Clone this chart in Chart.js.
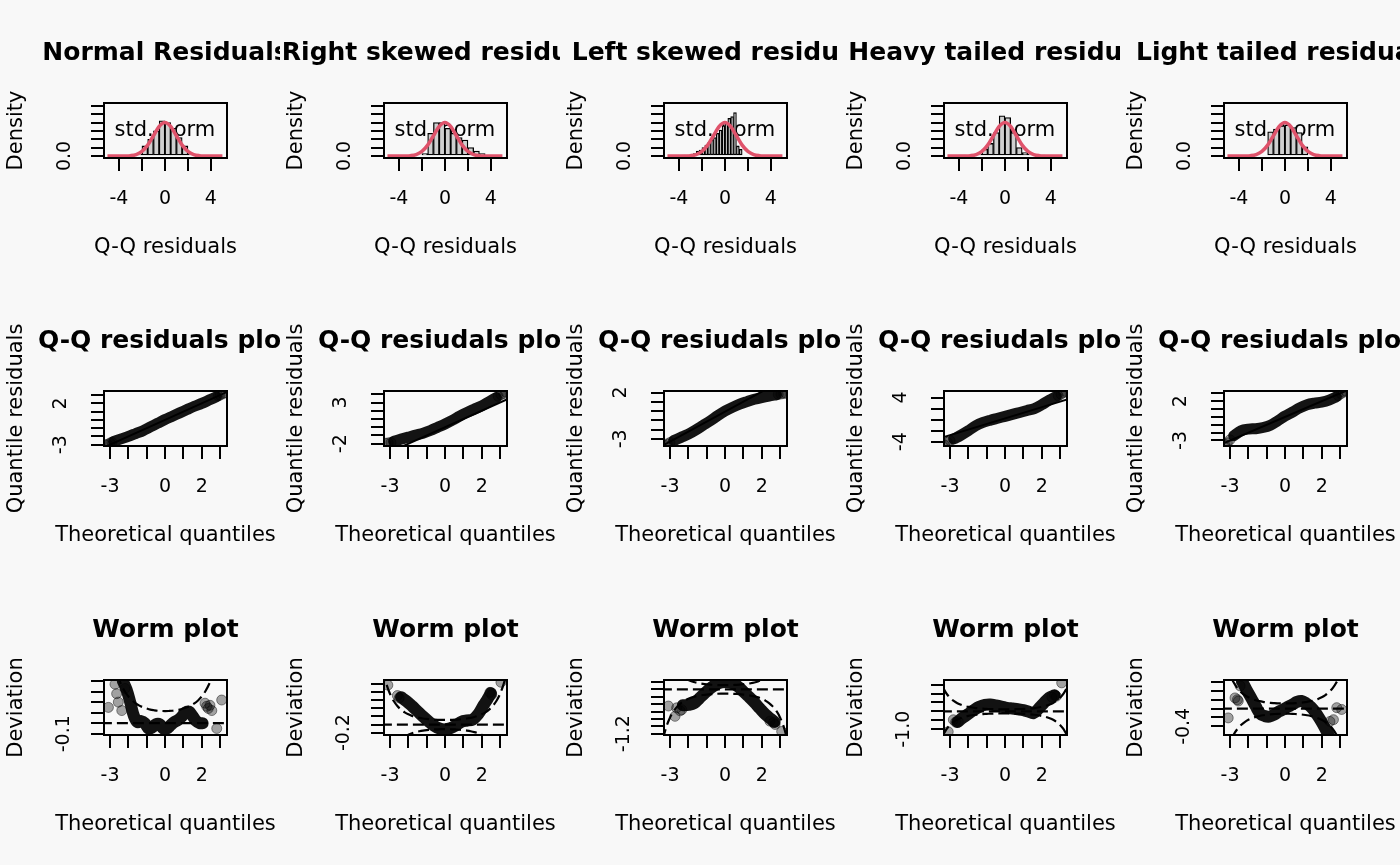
<!DOCTYPE html>
<html>
<head>
<meta charset="utf-8">
<script src="https://cdn.jsdelivr.net/npm/chart.js@4.4.1/dist/chart.umd.min.js"></script>
<style>
  html, body { margin: 0; padding: 0; background: #f8f8f8; }
  #wrap { position: relative; width: 1400px; height: 865px; overflow: hidden; }
  #wrap canvas { position: absolute; }
</style>
</head>
<body>
<div id="wrap"></div>
<script>
// ---- top row: histograms of the residuals (density) ----
const histTitles = ['Normal Residuals', 'Right skewed residuals', 'Left skewed residuals', 'Heavy tailed residuals', 'Light tailed residuals'];
const normBins  = [-2.75, -2.25, -1.75, -1.25, -0.75, -0.25, 0.25, 0.75, 1.25, 1.75, 2.25, 2.75];
const normDens  = [0.01, 0.02, 0.12, 0.20, 0.30, 0.42, 0.40, 0.33, 0.22, 0.12, 0.03, 0.01];
const rskewBins = [-1.75, -1.25, -0.75, -0.25, 0.25, 0.75, 1.25, 1.75, 2.25, 2.75, 3.25];
const rskewDens = [0.03, 0.27, 0.40, 0.40, 0.33, 0.27, 0.22, 0.19, 0.10, 0.06, 0.03];
const lskewBins = [-3.625, -3.375, -3.125, -2.875, -2.625, -2.375, -2.125, -1.875, -1.625, -1.375, -1.125,
                   -0.875, -0.625, -0.375, -0.125, 0.125, 0.375, 0.625, 0.875, 1.125, 1.375];
const lskewDens = [0.01, 0.01, 0.01, 0.02, 0.03, 0.06, 0.07, 0.10, 0.13, 0.16, 0.19,
                   0.22, 0.27, 0.31, 0.36, 0.40, 0.45, 0.47, 0.52, 0.12, 0.08];
const heavyBins = [-3.75, -3.25, -2.75, -2.25, -1.75, -1.25, -0.75, -0.25, 0.25, 0.75, 1.25, 1.75, 2.25, 2.75, 3.25];
const heavyDens = [0.005, 0.01, 0.01, 0.02, 0.08, 0.15, 0.28, 0.48, 0.46, 0.28, 0.10, 0.04, 0.02, 0.01, 0.005];
const lightBins = [-1.25, -0.75, -0.25, 0.25, 0.75, 1.25, 1.75];
const lightDens = [0.29, 0.32, 0.36, 0.37, 0.34, 0.28, 0.11];
// red reference curve (standard normal density)
const curveX = [-5, -4.5, -4, -3.5, -3, -2.5, -2, -1.5, -1, -0.5, 0, 0.5, 1, 1.5, 2, 2.5, 3, 3.5, 4, 4.5, 5];
const curveY = [0, 0, 0.0001, 0.0009, 0.0044, 0.0175, 0.054, 0.1295, 0.242, 0.3521, 0.3989,
                0.3521, 0.242, 0.1295, 0.054, 0.0175, 0.0044, 0.0009, 0.0001, 0, 0];
const histXTicks = [-4, -2, 0, 2, 4];
const histXLabels = ['-4', '', '0', '', '4'];
const histYTicks = [0, 0.1, 0.2, 0.3, 0.4, 0.5, 0.6];
const histYLabels = ['0.0', '', '', '', '', '', ''];

// ---- middle row: Q-Q plots ----
const qqTitles = ['Q-Q residuals plot', 'Q-Q resiudals plot', 'Q-Q resiudals plot', 'Q-Q resiudals plot', 'Q-Q resiudals plot'];
const qqX      = [-2.8, -2.4, -2.0, -1.6, -1.2, -0.8, -0.4, 0, 0.4, 0.8, 1.2, 1.6, 2.0, 2.4, 2.8];
const qqNormal = [-2.6, -2.3, -2.0, -1.65, -1.3, -0.85, -0.4, 0.05, 0.45, 0.85, 1.25, 1.65, 2.0, 2.4, 2.8];
const qqRight  = [-1.7, -1.45, -1.2, -0.95, -0.72, -0.4, 0.0, 0.4, 0.85, 1.35, 1.8, 2.2, 2.6, 3.1, 3.6];
const qqLeft   = [-3.2, -2.85, -2.5, -2.05, -1.55, -1.05, -0.5, 0.0, 0.4, 0.75, 1.02, 1.27, 1.46, 1.62, 1.76];
const qqHeavy  = [-3.5, -2.8, -2.0, -1.1, -0.5, -0.1, 0.25, 0.6, 0.95, 1.3, 1.65, 2.0, 2.7, 3.5, 4.2];
const qqLight  = [-2.4, -1.75, -1.55, -1.5, -1.35, -1.05, -0.5, 0.1, 0.6, 1.15, 1.55, 1.75, 1.88, 2.13, 2.55];
const qqNormalTails = [[-3.25, -3.05], [-3.15, -2.95], [-3.0, -2.8], [-2.9, -2.7], [2.9, 2.9], [3.0, 3.0], [3.15, 3.15], [3.25, 3.3]];
const qqRightTails  = [[-3.25, -1.95], [-3.1, -1.9], [-2.95, -1.85], [2.9, 3.75], [3.05, 3.95], [3.2, 4.1], [3.3, 4.3]];
const qqLeftTails   = [[-3.3, -3.7], [-3.15, -3.55], [-3.0, -3.4], [2.9, 1.8], [3.05, 1.85], [3.2, 1.9], [3.3, 1.95]];
const qqHeavyTails  = [[-3.3, -4.6], [-3.15, -4.1], [-3.0, -3.8], [2.9, 4.3], [3.05, 4.6], [3.2, 4.9], [3.3, 5.1]];
const qqLightTails  = [[-3.3, -3.5], [-3.15, -3.3], [-3.0, -2.9], [2.9, 2.7], [3.05, 2.95], [3.2, 3.15], [3.3, 3.3]];
const qqRefLines = [
  [[-3.6, -3.6], [3.6, 3.6]],
  [[-3.6, -3.6], [3.6, 3.6]],
  [[-3.6, -3.95], [3.6, 3.82]],
  [[-3.6, -3.4], [3.6, 3.86]],
  [[-3.6, -3.6], [3.6, 3.6]]
];
const qqYRanges = [[-3.16, 3.5], [-2.28, 4.4], [-3.78, 2.17], [-4.77, 5.18], [-3.7, 3.29]];
const qqXTicks = [-3, -2, -1, 0, 1, 2, 3];
const qqXLabels = ['-3', '', '', '0', '', '2', ''];
const qqYTicks = [[-3, -2, -1, 0, 1, 2, 3], [-2, -1, 0, 1, 2, 3, 4], [-3, -2, -1, 0, 1, 2], [-4, -2, 0, 2, 4], [-3, -2, -1, 0, 1, 2, 3]];
const qqYLabels = [['-3', '', '', '', '', '2', ''], ['-2', '', '', '', '', '3', ''], ['-3', '', '', '', '', '2'], ['-4', '', '', '', '4'], ['-3', '', '', '', '', '2', '']];

// ---- bottom row: worm plots ----
const wormNormalX = [-2.3, -2.1, -1.9, -1.7, -1.5, -1.3, -1.1, -0.9, -0.7, -0.5, -0.3, -0.1, 0.1, 0.3, 0.5, 0.7, 0.9, 1.1, 1.3, 1.5, 1.7, 1.9, 2.05];
const wormNormalY = [0.40, 0.32, 0.20, 0.07, 0.01, 0.02, 0.0, -0.05, -0.04, -0.01, -0.01, -0.05, -0.05, -0.02, 0.01, 0.03, 0.06, 0.10, 0.11, 0.07, 0.02, 0.0, 0.0];
const wormRightX  = [-2.4, -2.1, -1.8, -1.5, -1.2, -0.9, -0.6, -0.3, 0, 0.3, 0.6, 0.9, 1.2, 1.5, 1.8, 2.1, 2.3, 2.5];
const wormRightY  = [0.68, 0.58, 0.46, 0.33, 0.20, 0.08, -0.03, -0.10, -0.12, -0.09, -0.02, 0.07, 0.10, 0.12, 0.25, 0.48, 0.62, 0.78];
const wormLeftX   = [-2.3, -2.0, -1.7, -1.4, -1.1, -0.8, -0.5, -0.2, 0.1, 0.4, 0.7, 1.0, 1.3, 1.6, 1.9, 2.2, 2.5, 2.7];
const wormLeftY   = [-0.43, -0.42, -0.38, -0.24, -0.10, 0.03, 0.13, 0.19, 0.20, 0.17, 0.08, -0.06, -0.20, -0.35, -0.52, -0.68, -0.80, -0.88];
const wormHeavyX  = [-2.6, -2.3, -2.0, -1.7, -1.4, -1.1, -0.8, -0.5, -0.2, 0.1, 0.4, 0.7, 1.0, 1.3, 1.55, 1.8, 2.1, 2.4, 2.7];
const wormHeavyY  = [-0.6, -0.35, -0.14, 0.08, 0.26, 0.36, 0.38, 0.33, 0.27, 0.20, 0.16, 0.12, 0.07, -0.02, -0.10, 0.12, 0.45, 0.76, 0.90];
const wormLightX  = [-2.35, -2.1, -1.85, -1.6, -1.35, -1.1, -0.85, -0.6, -0.35, -0.1, 0.15, 0.4, 0.65, 0.9, 1.15, 1.4, 1.65, 1.9, 2.15, 2.4];
const wormLightY  = [0.62, 0.42, 0.24, 0.05, -0.12, -0.17, -0.18, -0.14, -0.07, -0.02, 0.04, 0.09, 0.15, 0.17, 0.12, 0.04, -0.08, -0.24, -0.42, -0.62];
const wormNormalTails = [[-3.09, 0.15], [-2.73, 0.37], [-2.64, 0.28], [-2.55, 0.20], [-2.36, 0.12], [-2.18, 0.33],
                         [2.18, 0.19], [2.27, 0.16], [2.36, 0.14], [2.45, 0.17], [2.55, 0.12], [2.82, -0.05], [3.09, 0.22]];
const wormRightTails  = [[-3.12, 0.98], [-2.6, 0.72], [-2.5, 0.66], [2.45, 0.80], [2.55, 0.74], [3.05, 1.05]];
const wormLeftTails   = [[-3.09, -0.45], [-2.73, -0.73], [-2.64, -0.5], [-2.45, -0.58], [-2.36, -0.55],
                         [2.45, -0.86], [2.64, -0.9], [2.73, -0.95], [3.09, -1.14]];
const wormHeavyTails  = [[-3.1, -1.14], [-2.82, -0.47], [-2.7, -0.6], [-2.55, -0.57], [2.55, 0.8], [2.7, 0.9], [2.8, 0.85], [3.09, 1.6]];
const wormLightTails  = [[-3.1, -0.21], [-2.73, 0.24], [-2.6, 0.2], [-2.55, 0.17], [-2.45, 0.51],
                         [2.45, -0.29], [2.64, -0.25], [2.82, 0.02], [3.09, -0.02]];
// dashed confidence band of the worm plots
const ciX     = [-3.4, -3.2, -3.0, -2.8, -2.6, -2.4, -2.2, -2.0, -1.8, -1.6, -1.4, -1.2, -1.0, -0.8, -0.6, -0.4, -0.2, 0,
                 0.2, 0.4, 0.6, 0.8, 1.0, 1.2, 1.4, 1.6, 1.8, 2.0, 2.2, 2.4, 2.6, 2.8, 3.0, 3.2, 3.4];
const ciUpper = [1.37, 1.01, 0.76, 0.585, 0.46, 0.37, 0.303, 0.253, 0.216, 0.188, 0.167, 0.151, 0.139, 0.129, 0.123, 0.118, 0.116, 0.115,
                 0.116, 0.118, 0.123, 0.129, 0.139, 0.151, 0.167, 0.188, 0.216, 0.253, 0.303, 0.37, 0.46, 0.585, 0.76, 1.01, 1.37];
const ciLower = [-1.37, -1.01, -0.76, -0.585, -0.46, -0.37, -0.303, -0.253, -0.216, -0.188, -0.167, -0.151, -0.139, -0.129, -0.123, -0.118, -0.116, -0.115,
                 -0.116, -0.118, -0.123, -0.129, -0.139, -0.151, -0.167, -0.188, -0.216, -0.253, -0.303, -0.37, -0.46, -0.585, -0.76, -1.01, -1.37];
const wormYRanges = [[-0.112, 0.41], [-0.26, 1.107], [-1.236, 0.255], [-1.324, 1.76], [-0.595, 0.643]];
const wormYTicks = [[-0.1, 0, 0.1, 0.2, 0.3, 0.4], [-0.2, 0, 0.2, 0.4, 0.6, 0.8, 1.0], [-1.2, -1.0, -0.8, -0.6, -0.4, -0.2, 0, 0.2],
                    [-1.0, -0.5, 0, 0.5, 1.0, 1.5], [-0.4, -0.2, 0, 0.2, 0.4, 0.6]];
const wormYLabels = [['-0.1', '', '', '', '', ''], ['-0.2', '', '', '', '', '', ''], ['-1.2', '', '', '', '', '', '', ''],
                     ['-1.0', '', '', '', '', ''], ['-0.4', '', '', '', '', '']];

// ---- drawing ----
const FONT = '"DejaVu Sans", sans-serif';
const TICK_PX = 19, LAB_PX = 21, MAIN_PX = 25, TICK_LEN = 13;
Chart.defaults.font.family = FONT;
Chart.defaults.color = '#000';

const measureCtx = document.createElement('canvas').getContext('2d');
function textWidth(t, px) {
  measureCtx.font = px + 'px ' + FONT;
  return measureCtx.measureText(t).width;
}
const pts = (xs, ys) => xs.map((x, i) => ({ x, y: ys[i] }));
const pairs = arr => arr.map(p => ({ x: p[0], y: p[1] }));

function textPlugin(spec) {
  return {
    id: 'panelText',
    beforeDatasetsDraw(chart) {
      if (!spec.note) return;
      const { ctx, scales } = chart;
      ctx.save();
      ctx.font = LAB_PX + 'px ' + FONT;
      ctx.fillStyle = '#000';
      ctx.textAlign = 'center';
      ctx.textBaseline = 'middle';
      ctx.fillText(spec.note.text, scales.x.getPixelForValue(spec.note.x), scales.y.getPixelForValue(spec.note.y));
      ctx.restore();
    },
    afterDraw(chart) {
      const { ctx, chartArea: a } = chart;
      const cx = (a.left + a.right) / 2, cy = (a.top + a.bottom) / 2;
      ctx.save();
      ctx.strokeStyle = '#000';
      ctx.lineWidth = 2;
      ctx.strokeRect(a.left, a.top, a.right - a.left, a.bottom - a.top);
      ctx.fillStyle = '#000';
      ctx.textAlign = 'center';
      ctx.textBaseline = 'middle';
      ctx.font = 'bold ' + MAIN_PX + 'px ' + FONT;
      ctx.fillText(spec.title, cx, 53);
      ctx.font = LAB_PX + 'px ' + FONT;
      ctx.fillText(spec.xTitle, cx, 248);
      ctx.translate(17, cy);
      ctx.rotate(-Math.PI / 2);
      ctx.fillText(spec.yTitle, 0, 0);
      ctx.restore();
    }
  };
}

function makePanel(row, col, spec) {
  const cv = document.createElement('canvas');
  cv.width = 280; cv.height = 288;
  cv.style.width = '280px'; cv.style.height = '288px';
  cv.style.left = (col * 280) + 'px';
  cv.style.top = Math.round(row * 865 / 3) + 'px';
  document.getElementById('wrap').appendChild(cv);

  const widest = Math.max(...spec.yLabels.map(t => textWidth(t, TICK_PX)));
  const grid = { drawOnChartArea: false, drawTicks: true, tickLength: TICK_LEN, color: '#000', lineWidth: 2, offset: false };
  const border = { display: true, color: '#000', width: 2 };

  new Chart(cv, {
    type: spec.type,
    data: { datasets: spec.datasets },
    options: {
      responsive: false,
      animation: false,
      events: [],
      layout: { padding: { left: 0, top: 103, right: 53, bottom: 27 } },
      plugins: { legend: { display: false }, tooltip: { enabled: false } },
      scales: {
        x: {
          type: 'linear', min: spec.xMin, max: spec.xMax, offset: false,
          afterBuildTicks: s => { s.ticks = spec.xTicks.map(v => ({ value: v })); },
          afterFit: s => { s.height = 103; },
          ticks: { autoSkip: false, minRotation: 0, maxRotation: 0, padding: 17,
                   font: { size: TICK_PX }, color: '#000', callback: (v, i) => spec.xLabels[i] },
          grid, border
        },
        y: {
          type: 'linear', min: spec.yMin, max: spec.yMax,
          afterBuildTicks: s => { s.ticks = spec.yTicks.map(v => ({ value: v })); },
          afterFit: s => { s.width = 104; },
          ticks: { autoSkip: false, minRotation: 90, maxRotation: 90, crossAlign: 'center',
                   padding: 104 - TICK_LEN - spec.yLabelX - widest / 2,
                   font: { size: TICK_PX }, color: '#000', callback: (v, i) => spec.yLabels[i] },
          grid, border
        }
      }
    },
    plugins: [textPlugin(spec)]
  });
}

// top row
const histData = [[normBins, normDens], [rskewBins, rskewDens], [lskewBins, lskewDens], [heavyBins, heavyDens], [lightBins, lightDens]];
histData.forEach(([bins, dens], i) => makePanel(0, i, {
  type: 'bar',
  title: histTitles[i], xTitle: 'Q-Q residuals', yTitle: 'Density',
  note: { text: 'std. norm', x: 0, y: 0.3 },
  xMin: -5.3, xMax: 5.4, yMin: -0.024, yMax: 0.633,
  xTicks: histXTicks, xLabels: histXLabels, yTicks: histYTicks, yLabels: histYLabels, yLabelX: 65,
  datasets: [
    { type: 'bar', data: pts(bins, dens), backgroundColor: '#cfcfcf', borderColor: '#000', borderWidth: 1.3,
      borderSkipped: false, barPercentage: 1, categoryPercentage: 1, order: 2 },
    { type: 'line', data: pts(curveX, curveY), borderColor: '#DF536B', borderWidth: 3.5, pointRadius: 0,
      cubicInterpolationMode: 'monotone', order: 1 }
  ]
}));

// middle row
const qqBands = [qqNormal, qqRight, qqLeft, qqHeavy, qqLight];
const qqTails = [qqNormalTails, qqRightTails, qqLeftTails, qqHeavyTails, qqLightTails];
qqBands.forEach((band, i) => makePanel(1, i, {
  type: 'scatter',
  title: qqTitles[i], xTitle: 'Theoretical quantiles', yTitle: 'Quantile residuals',
  xMin: -3.33, xMax: 3.38, yMin: qqYRanges[i][0], yMax: qqYRanges[i][1],
  xTicks: qqXTicks, xLabels: qqXLabels, yTicks: qqYTicks[i], yLabels: qqYLabels[i], yLabelX: 61,
  datasets: [
    { type: 'line', data: pts(qqX, band), borderColor: 'rgba(0,0,0,0.92)', borderWidth: 11, pointRadius: 0,
      tension: 0.3, borderCapStyle: 'round', borderJoinStyle: 'round', order: 3, clip: 0 },
    { type: 'scatter', data: pairs(qqTails[i]), pointRadius: 5, backgroundColor: 'rgba(0,0,0,0.35)',
      borderColor: 'rgba(0,0,0,0.45)', borderWidth: 1, order: 2, clip: 0 },
    { type: 'line', data: pairs(qqRefLines[i]), borderColor: '#000', borderWidth: 2, pointRadius: 0, order: 1, clip: 0 }
  ]
}));

// bottom row
const wormX = [wormNormalX, wormRightX, wormLeftX, wormHeavyX, wormLightX];
const wormY = [wormNormalY, wormRightY, wormLeftY, wormHeavyY, wormLightY];
const wormTails = [wormNormalTails, wormRightTails, wormLeftTails, wormHeavyTails, wormLightTails];
const dashed = { borderColor: '#000', borderWidth: 2.2, borderDash: [11, 5], pointRadius: 0, order: 3, clip: 0 };
wormX.forEach((xs, i) => makePanel(2, i, {
  type: 'scatter',
  title: 'Worm plot', xTitle: 'Theoretical quantiles', yTitle: 'Deviation',
  xMin: -3.33, xMax: 3.38, yMin: wormYRanges[i][0], yMax: wormYRanges[i][1],
  xTicks: qqXTicks, xLabels: qqXLabels, yTicks: wormYTicks[i], yLabels: wormYLabels[i], yLabelX: 64,
  datasets: [
    Object.assign({ type: 'line', data: [{ x: -3.5, y: 0 }, { x: 3.5, y: 0 }] }, dashed),
    Object.assign({ type: 'line', data: pts(ciX, ciUpper), tension: 0.3 }, dashed),
    Object.assign({ type: 'line', data: pts(ciX, ciLower), tension: 0.3 }, dashed),
    { type: 'line', data: pts(xs, wormY[i]), borderColor: 'rgba(0,0,0,0.93)', borderWidth: 12, pointRadius: 0,
      tension: 0.35, borderCapStyle: 'round', borderJoinStyle: 'round', order: 2, clip: 0 },
    { type: 'scatter', data: pairs(wormTails[i]), pointRadius: 5, backgroundColor: 'rgba(0,0,0,0.35)',
      borderColor: 'rgba(0,0,0,0.45)', borderWidth: 1, order: 1, clip: 0 }
  ]
}));
</script>
</body>
</html>
